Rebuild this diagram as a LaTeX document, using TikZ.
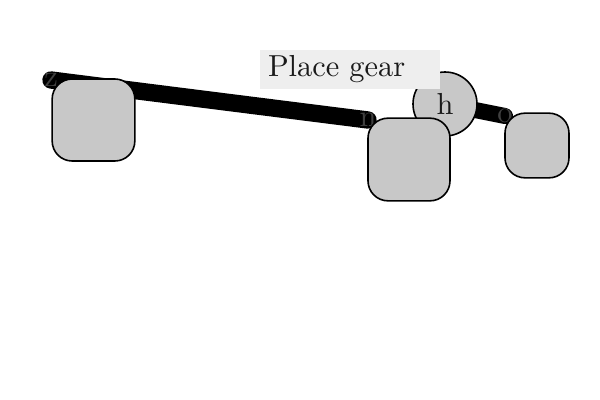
\documentclass[tikz,border=0pt]{standalone}
\usepackage{graphicx}
\usetikzlibrary{backgrounds}
\definecolor{boxgray}{HTML}{C8C8C8}
\definecolor{labgray}{HTML}{EEEEEE}
\definecolor{ink}{HTML}{1A1A1A}
\newcommand{\sctext}[1]{\scalebox{2.28}{#1}}
\begin{document}
\begin{tikzpicture}[x=0.75pt,y=-0.75pt,
  every node/.style={text=ink},
  ptlabel/.style={inner sep=0pt, text=black!75},
  thickline/.style={line width=13pt, line cap=round, draw=black},
  boxnode/.style={draw=black, line width=1.2pt, fill=boxgray, rounded corners=15pt, inner sep=0pt},
  circnode/.style={draw=black, line width=1.2pt, fill=boxgray, circle, minimum size=48pt, inner sep=0pt},
  labelnode/.style={fill=labgray, minimum height=29pt, text width=123pt, inner xsep=6pt, align=left}]
\useasboundingbox (0,0) rectangle (600,400);
\node[ptlabel] (z) at (51,80) {\sctext{z}};
\node[ptlabel] (n) at (368,120) {\sctext{n}};
\node[ptlabel] (o) at (505,116) {\sctext{o}};
\node[circnode] (h) at (445,104) {\sctext{h}};
\node[boxnode, minimum width=62pt, minimum height=61.5pt] (b1) at (93.5,120) {};
\node[boxnode, minimum width=61.5pt, minimum height=62pt] (b2) at (409,159.5) {};
\node[boxnode, minimum width=48pt, minimum height=48.5pt] (b3) at (537,145.5) {};
\node[labelnode] (lab) at (350,69.5) {\sctext{Place gear}};
\begin{pgfonlayer}{background}
  \draw[thickline] (z.center) -- (n.center);
  \draw[thickline, line width=12pt] (h.center) -- (o.center);
\end{pgfonlayer}
\end{tikzpicture}
\end{document}
